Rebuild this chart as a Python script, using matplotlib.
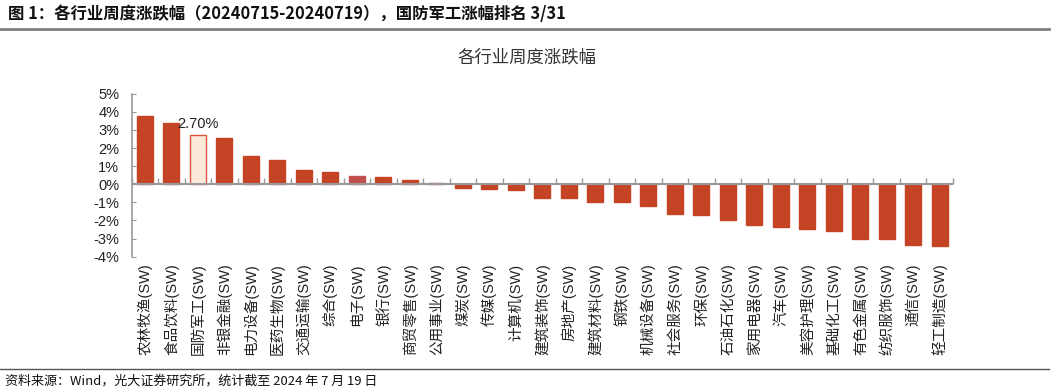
import matplotlib
matplotlib.use("Agg")
import matplotlib.pyplot as plt
import numpy as np
from matplotlib.lines import Line2D

plt.rcParams['font.family'] = ['Liberation Sans', 'Noto Sans CJK SC', 'DejaVu Sans']

industries = ["农林牧渔", "食品饮料", "国防军工", "非银金融", "电力设备", "医药生物", "交通运输",
              "综合", "电子", "银行", "商贸零售", "公用事业", "煤炭", "传媒", "计算机",
              "建筑装饰", "房地产", "建筑材料", "钢铁", "机械设备", "社会服务", "环保",
              "石油石化", "家用电器", "汽车", "美容护理", "基础化工", "有色金属", "纺织服饰",
              "通信", "轻工制造"]
changes = [3.77, 3.36, 2.70, 2.54, 1.56, 1.34, 0.79, 0.68, 0.46, 0.40, 0.24, 0.07,
           -0.18, -0.26, -0.29, -0.74, -0.74, -0.97, -0.97, -1.19, -1.64, -1.69,
           -1.97, -2.24, -2.35, -2.46, -2.57, -3.01, -3.01, -3.35, -3.40]
labels = [f"{n}(SW)" for n in industries]
highlight = "国防军工"
yticks = [-4, -3, -2, -1, 0, 1, 2, 3, 4, 5]

fig = plt.figure(figsize=(10.55, 3.9), dpi=100)
ax = fig.add_axes([0.1248, 0.3418, 0.7785, 0.4179])

x = np.arange(len(industries))
colors = []
edges = []
for n in industries:
    if n == highlight:
        colors.append('#FCE9DA'); edges.append('#D9563A')
    elif n == "电子":
        colors.append('#C0504D'); edges.append('#C0504D')
    else:
        colors.append('#C54425'); edges.append('#C54425')
bars = ax.bar(x, changes, width=0.6, color=colors, edgecolor=edges, linewidth=1.0, zorder=2)

hi = industries.index(highlight)
ax.annotate(f"{changes[hi]:.2f}%", xy=(x[hi], changes[hi]), xytext=(0, 3),
            textcoords='offset points', ha='center', va='bottom', fontsize=10.5,
            color='#222222')

ax.set_xlim(-0.5, len(industries) - 0.5)
ax.set_ylim(-4, 5)
ax.set_yticks(yticks)
ax.set_yticklabels([f"{v}%" for v in yticks], fontsize=10.5, color='#222222')
ax.tick_params(axis='y', direction='in', length=3, color='#999999', pad=9)

ax.set_xticks(x)
ax.set_xticklabels(labels, rotation=90, fontsize=10.5, va='top', ha='center', color='#222222')
ax.tick_params(axis='x', length=0, pad=5)

for s in ['top', 'right', 'bottom']:
    ax.spines[s].set_visible(False)
ax.spines['left'].set_color('#999999')
ax.spines['left'].set_linewidth(1.2)

ax.axhline(0, color='#999999', linewidth=1.5, zorder=3)
bounds = np.arange(len(industries) + 1) - 0.5
ax.plot(bounds, np.zeros_like(bounds), linestyle='none', marker=2, markersize=4,
        markeredgecolor='#999999', markeredgewidth=1.0, zorder=3, clip_on=False)

fig.text(0.5, 0.853, "各行业周度涨跌幅", ha='center', va='center', fontsize=12.5,
         family=['Noto Sans CJK SC'], color='#333333')

fig.text(0.0076, 0.963, "图 1：各行业周度涨跌幅（20240715-20240719），国防军工涨幅排名 3/31",
         ha='left', va='center', fontsize=11.8, fontweight='bold',
         family=['Noto Sans CJK SC'], color='#111111')
fig.add_artist(Line2D([0.0, 0.994], [0.925, 0.925], transform=fig.transFigure,
                      color='#7f7f7f', linewidth=2.0))

fig.add_artist(Line2D([0.0, 0.994], [0.054, 0.054], transform=fig.transFigure,
                      color='#555555', linewidth=1.0))
fig.text(0.005, 0.023, "资料来源：Wind，光大证券研究所，统计截至 2024 年 7 月 19 日",
         ha='left', va='center', fontsize=9.4, family=['Noto Sans CJK SC'], color='#111111')

fig.savefig("out.png", dpi=100)
